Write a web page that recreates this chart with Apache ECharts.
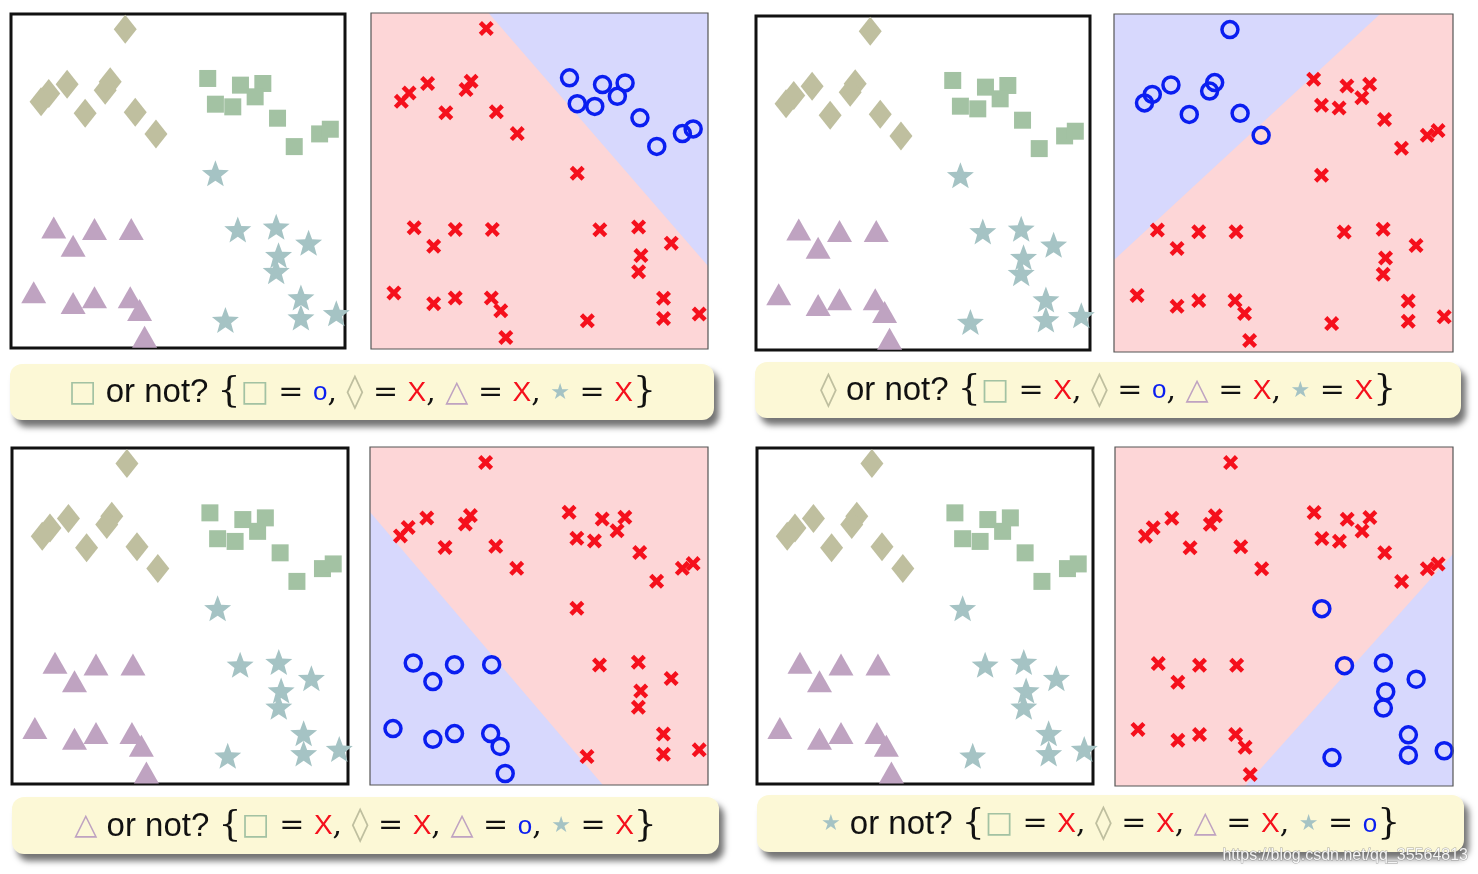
<!DOCTYPE html>
<html><head><meta charset="utf-8">
<script src="https://cdn.jsdelivr.net/npm/echarts@6/dist/echarts.min.js"></script>
<style>html,body{margin:0;padding:0;background:#fff}#c{width:1478px;height:874px}</style>
</head><body><div id="c"></div>
<script>
// ---------------- data ----------------
const diamonds = [[3.42,9.54],[1.68,7.90],[1.13,7.62],[0.90,7.37],[2.97,7.97],[2.82,7.72],[2.22,7.03],[3.72,7.06],[4.34,6.41]];
const squares = [[5.89,8.07],[6.87,7.87],[7.54,7.92],[7.31,7.52],[6.12,7.30],[6.64,7.22],[7.98,6.88],[8.48,6.03],[9.24,6.41],[9.56,6.55]];
const triangles = [[1.28,3.61],[1.86,3.06],[2.50,3.56],[3.60,3.56],[0.68,1.67],[1.86,1.35],[2.50,1.52],[3.57,1.52],[3.85,1.14],[4.00,0.34]];
const stars = [[6.12,5.23],[6.79,3.55],[7.94,3.63],[8.91,3.15],[8.01,2.78],[7.94,2.30],[8.68,1.51],[8.68,0.91],[6.42,0.84],[9.74,1.04]];
const classNames = ['square','diamond','triangle','star'];
const positiveClass = ['square','diamond','triangle','star'];
// blue (positive) decision regions per quadrant
const blueRegions = [
  [[3.49,10],[10,10],[10,2.47]],
  [[0,2.72],[0,10],[7.85,10]],
  [[0,8.08],[0,0],[6.89,0]],
  [[3.85,0],[10,0],[10,6.84]]
];
const axisMin = 0, axisMax = 10;
const watermark = 'https://blog.csdn.net/qq_35564813';

// ---------------- layout / style ----------------
const layout = [
  {L:[11,14,334,334], R:[371,13,337,336], cap:[10,364,704,56]},
  {L:[756,16,334,334], R:[1114,14,339,338], cap:[755,362,706,56]},
  {L:[12,448,336,336], R:[370,447,338,338], cap:[12,797,707,57]},
  {L:[757,448,336,336], R:[1115,447,338,339], cap:[757,795,707,57]}
];
const STAR = 'path://M50,0 L62.34,33.01 L97.55,34.55 L69.97,56.49 L79.39,90.45 L50,71 L20.61,90.45 L30.03,56.49 L2.45,34.55 L37.66,33.01 Z';
const XMARK = 'path://M3,0 L7,4 L11,0 L14,3 L10,7 L14,11 L11,14 L7,10 L3,14 L0,11 L4,7 L0,3 Z';
const PINK = '#fdd6d7', LAV = '#d7d8fd', RED = '#f5101c', BLUE = '#0a1ef0';
const classStyle = {
  diamond: {data: diamonds, symbol:'diamond', size:[23,29], color:'#bfbf9f'},
  square: {data: squares, symbol:'rect', size:[17,17], color:'#a3c2a3'},
  triangle: {data: triangles, symbol:'triangle', size:[25,22], color:'#bfa3c1'},
  star: {data: stars, symbol:STAR, size:[27,26], color:'#a5c3c4'}
};
const drawOrder = ['diamond','square','triangle','star'];

const symTok = {square:'{sq|□}', diamond:'{di|◊}', triangle:'{tr|△}', star:'{st|★}'};
const rich = {
  sq:{fontFamily:'DejaVu Sans', fontSize:30, fill:'#a3c2a3', verticalAlign:'middle'},
  di:{fontFamily:'DejaVu Sans', fontSize:34, fill:'#bfbf9f', verticalAlign:'middle'},
  tr:{fontFamily:'DejaVu Sans', fontSize:30, fill:'#bfa3c1', verticalAlign:'middle'},
  st:{fontFamily:'DejaVu Sans', fontSize:22, fill:'#a5c3c4', verticalAlign:'middle'},
  txt:{fontFamily:'Liberation Sans', fontSize:33, fill:'#111', verticalAlign:'middle'},
  br:{fontFamily:'DejaVu Serif', fontSize:36, fill:'#111', verticalAlign:'middle'},
  eq:{fontFamily:'DejaVu Serif', fontSize:30, fill:'#111', verticalAlign:'middle'},
  os:{fontFamily:'Liberation Sans', fontSize:26, fill:BLUE, verticalAlign:'middle'},
  xs:{fontFamily:'Liberation Sans', fontSize:28, fill:RED, verticalAlign:'middle'},
  cm:{fontFamily:'DejaVu Serif', fontSize:30, fill:'#111', verticalAlign:'middle'}
};
function caption(pos){
  let s = symTok[pos] + '{txt| or not? }' + '{br|{}';
  classNames.forEach((c, i) => {
    s += symTok[c] + '{eq| = }' + (c === pos ? '{os|o}' : '{xs|X}');
    if (i < classNames.length - 1) s += '{cm|, }';
  });
  return s + '}';
}

const grids = [], xAxes = [], yAxes = [], series = [], graphics = [];
layout.forEach((q, qi) => {
  ['L','R'].forEach(side => {
    const r = q[side];
    const gi = grids.length;
    grids.push({left:r[0], top:r[1], width:r[2], height:r[3], show:true,
      backgroundColor: side==='L' ? '#fff' : PINK,
      borderColor: side==='L' ? '#111' : 'transparent', borderWidth: side==='L' ? 3 : 0});
    xAxes.push({type:'value', gridIndex:gi, min:axisMin, max:axisMax, show:false});
    yAxes.push({type:'value', gridIndex:gi, min:axisMin, max:axisMax, show:false});
    if (side === 'L') {
      drawOrder.forEach(c => {
        const s = classStyle[c];
        series.push({type:'scatter', xAxisIndex:gi, yAxisIndex:gi, data:s.data,
          symbol:s.symbol, symbolSize:s.size, itemStyle:{color:s.color, opacity:1}, z:3, silent:true});
      });
    } else {
      const region = blueRegions[qi];
      series.push({type:'custom', xAxisIndex:gi, yAxisIndex:gi, data:[[0,0]], z:1, silent:true,
        renderItem: function(params, api){
          return {type:'polygon', shape:{points: region.map(p => api.coord(p))}, style:{fill:LAV}};
        }});
      drawOrder.forEach(c => {
        const s = classStyle[c];
        const pos = positiveClass[qi] === c;
        series.push({type:'scatter', xAxisIndex:gi, yAxisIndex:gi, data:s.data, z:3, silent:true,
          symbol: pos ? 'circle' : XMARK,
          symbolSize: pos ? 16 : 15,
          itemStyle: pos ? {color:'rgba(0,0,0,0)', borderColor:BLUE, borderWidth:3.5, opacity:1}
                         : {color:RED, opacity:1}});
      });
      graphics.push({type:'rect', shape:{x:r[0], y:r[1], width:r[2], height:r[3]},
        style:{fill:'none', stroke:'#555', lineWidth:1.2}, z:50, silent:true});
    }
  });
  const c = q.cap;
  graphics.push({type:'rect', shape:{x:c[0], y:c[1], width:c[2], height:c[3], r:12},
    style:{fill:'#fcf8d6', shadowBlur:6, shadowOffsetX:5, shadowOffsetY:7, shadowColor:'rgba(0,0,0,0.55)'}, z:10, silent:true});
  graphics.push({type:'text', x:c[0]+c[2]/2, y:c[1]+c[3]/2+1, z:11, silent:true,
    style:{text: caption(positiveClass[qi]), align:'center', verticalAlign:'middle',
      fontFamily:'DejaVu Serif', fontSize:36, fill:'#111', rich: rich}});
});
graphics.push({type:'text', x:1468, y:856, z:20, silent:true,
  style:{text:watermark, align:'right', verticalAlign:'middle', fontFamily:'Liberation Sans', fontSize:16,
    fill:'rgba(255,255,255,0.9)', stroke:'rgba(120,120,120,0.6)', lineWidth:1}});

const chart = echarts.init(document.getElementById('c'), null, {renderer:'canvas'});
chart.setOption({
  animation:false,
  grid: grids, xAxis: xAxes, yAxis: yAxes, series: series, graphic: graphics
});
</script>
</body></html>
